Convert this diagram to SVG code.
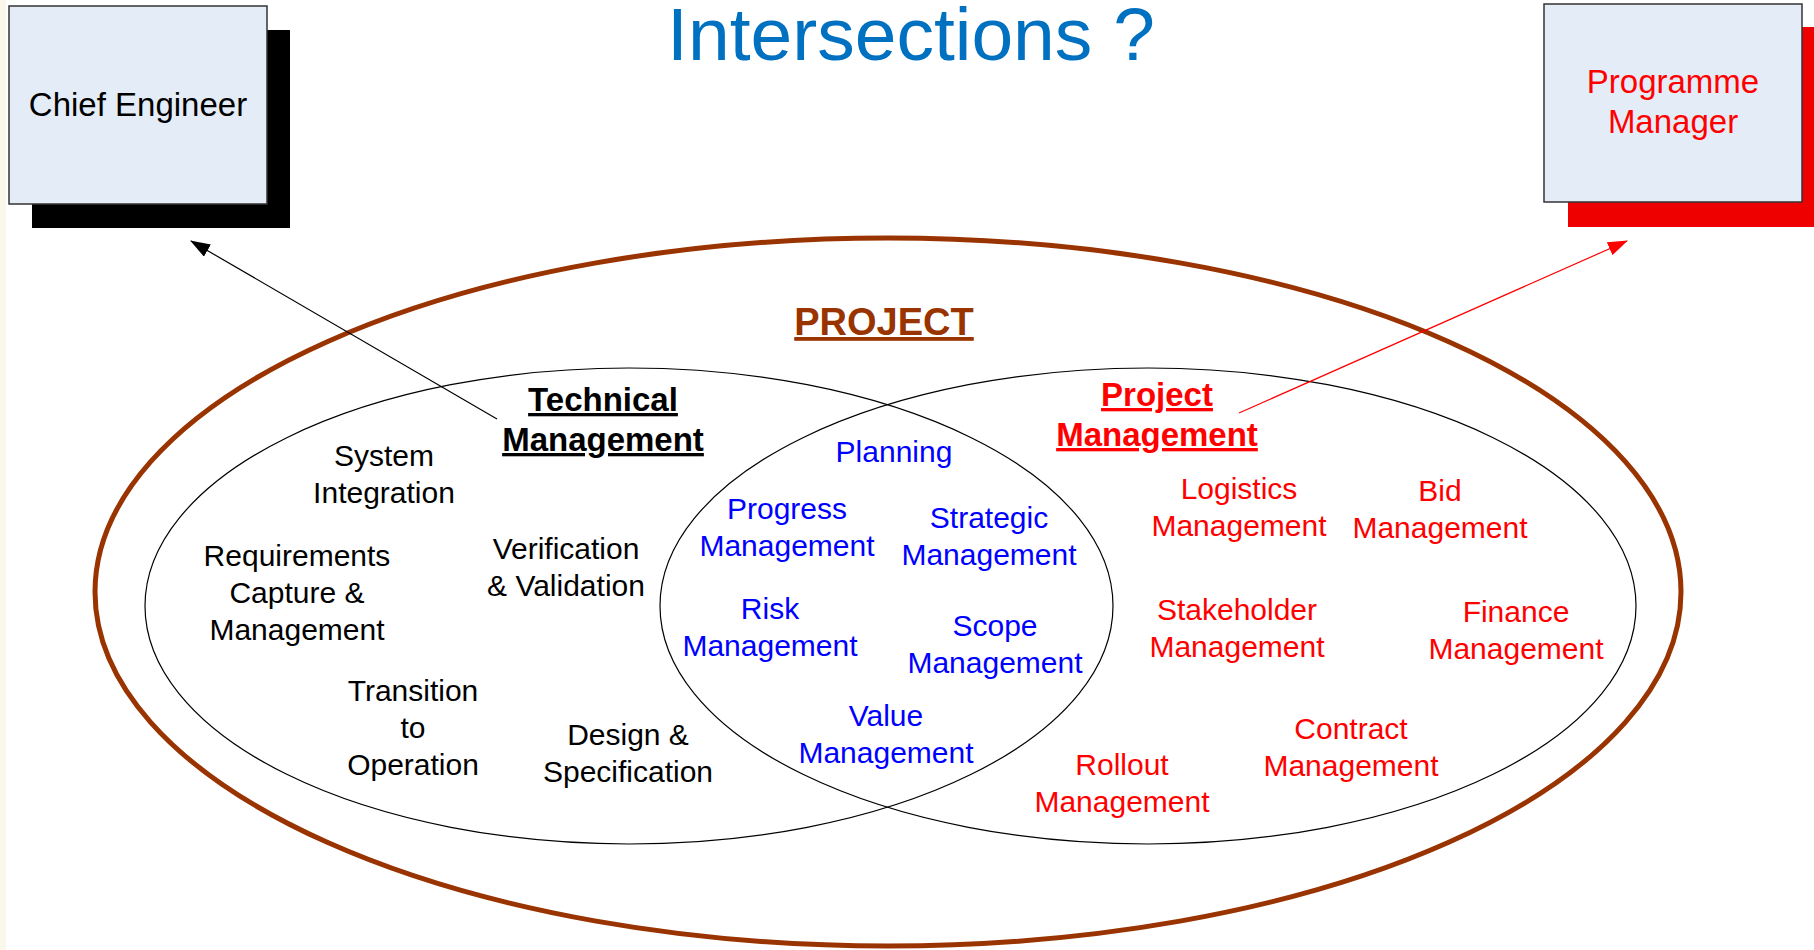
<svg xmlns="http://www.w3.org/2000/svg" width="1814" height="950" viewBox="0 0 1814 950">
<style>
text{font-family:"Liberation Sans",Arial,sans-serif;text-anchor:middle}
.t{font-size:30px}
.k{fill:#000}
.b{fill:#0000FF}
.r{fill:#FF0000}
.h{font-size:33px;font-weight:bold;text-decoration:underline}
.box{fill:#E4ECF7;stroke:#333;stroke-width:1.5}
.ell{fill:none;stroke:#000;stroke-width:1.2}
</style>
<defs>
<marker id="ak" viewBox="0 0 20 14" refX="19" refY="7" markerWidth="20" markerHeight="14" markerUnits="userSpaceOnUse" orient="auto"><path d="M0,0L20,7L0,14z" fill="#000"/></marker>
<marker id="ar" viewBox="0 0 20 14" refX="19" refY="7" markerWidth="20" markerHeight="14" markerUnits="userSpaceOnUse" orient="auto"><path d="M0,0L20,7L0,14z" fill="#FF0000"/></marker>
</defs>
<rect width="1814" height="950" fill="#fff"/>
<rect x="0" y="0" width="6" height="950" fill="#FBF7EA"/>
<text x="911" y="60" style="font-size:75px;fill:#0070C0">Intersections ?</text>
<g id="chief-engineer">
<rect x="32" y="30" width="258" height="198" fill="#000"/>
<rect class="box" x="9" y="6" width="258" height="198"/>
<text class="k" x="138" y="116" style="font-size:33px">Chief Engineer</text>
</g>
<g id="programme-manager">
<rect x="1568" y="27" width="258" height="200" fill="#EE0000"/>
<rect class="box" x="1544" y="4" width="258" height="198"/>
<text class="r" x="1673" y="93" style="font-size:33px">Programme</text>
<text class="r" x="1673" y="133" style="font-size:33px">Manager</text>
</g>
<g id="project">
<ellipse cx="888" cy="592" rx="793" ry="354" fill="none" stroke="#993300" stroke-width="5"/>
<text x="884" y="335" style="font-size:38px;font-weight:bold;text-decoration:underline;fill:#993300">PROJECT</text>
</g>
<g id="technical-management">
<ellipse class="ell" cx="629" cy="606" rx="484" ry="238"/>
<text class="h k" x="603" y="411">Technical</text>
<text class="h k" x="603" y="451">Management</text>
<text class="t k" x="384" y="466">System</text>
<text class="t k" x="384" y="503">Integration</text>
<text class="t k" x="297" y="566">Requirements</text>
<text class="t k" x="297" y="603">Capture &amp;</text>
<text class="t k" x="297" y="640">Management</text>
<text class="t k" x="566" y="559">Verification</text>
<text class="t k" x="566" y="596">&amp; Validation</text>
<text class="t k" x="413" y="701">Transition</text>
<text class="t k" x="413" y="738">to</text>
<text class="t k" x="413" y="775">Operation</text>
<text class="t k" x="628" y="745">Design &amp;</text>
<text class="t k" x="628" y="782">Specification</text>
</g>
<g id="project-management">
<ellipse class="ell" cx="1148" cy="606" rx="488" ry="238"/>
<text class="h r" x="1157" y="406">Project</text>
<text class="h r" x="1157" y="446">Management</text>
<text class="t r" x="1239" y="499">Logistics</text>
<text class="t r" x="1239" y="536">Management</text>
<text class="t r" x="1440" y="501">Bid</text>
<text class="t r" x="1440" y="538">Management</text>
<text class="t r" x="1237" y="620">Stakeholder</text>
<text class="t r" x="1237" y="657">Management</text>
<text class="t r" x="1516" y="622">Finance</text>
<text class="t r" x="1516" y="659">Management</text>
<text class="t r" x="1351" y="739">Contract</text>
<text class="t r" x="1351" y="776">Management</text>
<text class="t r" x="1122" y="775">Rollout</text>
<text class="t r" x="1122" y="812">Management</text>
</g>
<g id="intersection">
<text class="t b" x="894" y="462">Planning</text>
<text class="t b" x="787" y="519">Progress</text>
<text class="t b" x="787" y="556">Management</text>
<text class="t b" x="989" y="528">Strategic</text>
<text class="t b" x="989" y="565">Management</text>
<text class="t b" x="770" y="619">Risk</text>
<text class="t b" x="770" y="656">Management</text>
<text class="t b" x="995" y="636">Scope</text>
<text class="t b" x="995" y="673">Management</text>
<text class="t b" x="886" y="726">Value</text>
<text class="t b" x="886" y="763">Management</text>
</g>
<g id="connectors">
<line x1="497" y1="419" x2="191" y2="241" stroke="#000" stroke-width="1.2" marker-end="url(#ak)"/>
<line x1="1239" y1="413" x2="1627" y2="241" stroke="#FF0000" stroke-width="1.2" marker-end="url(#ar)"/>
</g>
</svg>
